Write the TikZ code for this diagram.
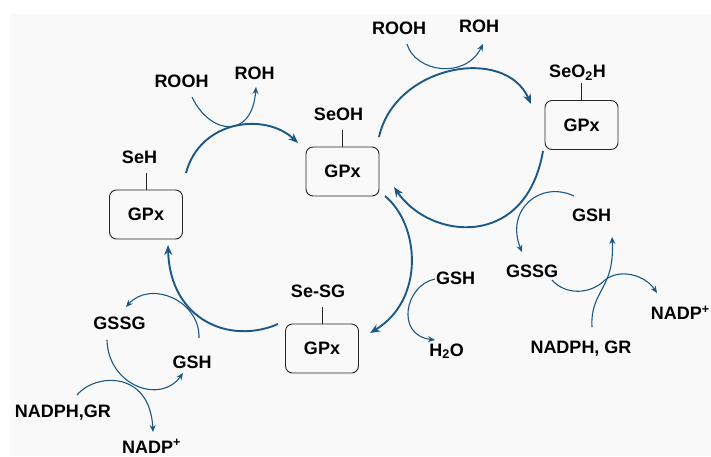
\documentclass[tikz,border=0pt]{standalone}
\usepackage{fontspec}
\setmainfont{Liberation Sans}
\usetikzlibrary{arrows.meta}
\definecolor{cycblue}{RGB}{28,88,134}
\definecolor{panel}{RGB}{249,249,249}

\begin{document}
\begin{tikzpicture}[x=1pt, y=-1pt,
	gpx/.style={draw=black!85, line width=0.9pt, rounded corners=7pt, minimum width=73pt, minimum height=49pt, inner sep=0pt, font=\bfseries\fontsize{18}{20}\selectfont},
	lbl/.style={inner sep=0pt, text height=13pt, text depth=0pt, font=\bfseries\fontsize{18}{20}\selectfont},
	stem/.style={line width=0.9pt, black!85},
	cyc/.style={draw=cycblue, line width=1.9pt, -{Stealth[length=10pt,width=8pt]}},
	side/.style={draw=cycblue, line width=1.1pt, -{Stealth[length=7pt,width=6pt]}}]
		%%%%% START %%%%%
		
		\fill[white] (0,0) rectangle (711,456);
		\fill[panel] (10,14) rectangle (711,456);
		\useasboundingbox (0,0) rectangle (711,456);
		
		% the four enzyme states
		\node[gpx] (gpxL) at (146,214.5) {GPx};
		\node[gpx] (gpxM) at (342.5,171.5) {GPx};
		\node[gpx] (gpxR) at (581.5,125) {GPx};
		\node[gpx] (gpxB) at (322,348.5) {GPx};
		
		\draw[stem] (gpxL.north) -- ++(0,-17);
		\draw[stem] (gpxM.north) -- ++(0,-17);
		\draw[stem] (gpxR.north) -- ++(0,-17);
		\draw[stem] (gpxB.north) -- ++(0,-17);
		
		\node[lbl] (seh) at (139.5,157) {SeH};
		\node[lbl] (seoh) at (338.5,114) {SeOH};
		\node[lbl] (seotwoh) at (577.5,71) {SeO\textsubscript{2}H};
		\node[lbl] (sesg) at (318,291) {Se-SG};
		
		% substrates and products
		\node[lbl] (roohL) at (181.5,81) {ROOH};
		\node[lbl] (rohL) at (254.5,73) {ROH};
		\node[lbl] (roohT) at (399,28) {ROOH};
		\node[lbl] (rohT) at (479,26) {ROH};
		\node[lbl] (gshR) at (591.5,215) {GSH};
		\node[lbl] (gssgR) at (532,271) {GSSG};
		\node[lbl, anchor=east] (nadpR) at (710,313) {NADP\textsuperscript{+}};
		\node[lbl] (nadphR) at (581,347) {NADPH, GR};
		\node[lbl] (gshM) at (455.5,277.5) {GSH};
		\node[lbl] (water) at (446.5,349.5) {H\textsubscript{2}O};
		\node[lbl] (gssgL) at (119.5,323) {GSSG};
		\node[lbl] (gshL) at (192,361.5) {GSH};
		\node[lbl] (nadphL) at (63,410.5) {NADPH,GR};
		\node[lbl] (nadpL) at (151.5,446.5) {NADP\textsuperscript{+}};
		
		% end points of the arcs
		\coordinate (lOut) at (186,173);   \coordinate (mIn) at (298,143);
		\coordinate (mOut) at (379,137);   \coordinate (rIn) at (531,104);
		\coordinate (rOut) at (543,151);   \coordinate (mBack) at (394,187);
		\coordinate (mDown) at (385,196);  \coordinate (bIn) at (370,333);
		\coordinate (bOut) at (278,324);   \coordinate (lIn) at (168,245);
		
		\coordinate (roohLe) at (192,97);  \coordinate (rohLe) at (256,87);
		\coordinate (roohTe) at (407,44);  \coordinate (rohTe) at (483,44);
		\coordinate (gshRe) at (574,196);  \coordinate (gssgRa) at (522,252);
		\coordinate (gssgRe) at (552,280); \coordinate (nadpRe) at (657,293);
		\coordinate (nadphRe) at (592,327);\coordinate (gshRa) at (612,237);
		\coordinate (gshMe) at (435,279);  \coordinate (waterE) at (435,340);
		\coordinate (gshLe) at (199,338);  \coordinate (gssgLa) at (126,307);
		\coordinate (gssgLe) at (107,340); \coordinate (gshLa) at (183,373);
		\coordinate (nadphLe) at (77,395); \coordinate (nadpLe) at (153,432);
		
		% main cycle
		\draw[cyc] (lOut) .. controls (200,120) and (265,112) .. (mIn);
		\draw[cyc] (mOut) .. controls (395,65) and (505,45) .. (rIn);
		\draw[cyc] (rOut) .. controls (526,250) and (430,240) .. (mBack);
		\draw[cyc] (mDown) .. controls (420,225) and (425,300) .. (bIn);
		\draw[cyc] (bOut) .. controls (230,345) and (170,320) .. (lIn);
		
		% side reactions
		\draw[side] (roohLe) .. controls (210,135) and (252,140) .. (rohLe);
		\draw[side] (roohTe) .. controls (415,72) and (465,80) .. (rohTe);
		\draw[side] (gshRe) .. controls (540,180) and (505,210) .. (gssgRa);
		\draw[side] (gssgRe) .. controls (565,295) and (590,295) .. (605,280) .. controls (620,268) and (645,275) .. (nadpRe);
		\draw[side] (nadphRe) .. controls (590,290) and (615,290) .. (gshRa);
		\draw[side] (gshMe) .. controls (405,285) and (395,335) .. (waterE);
		\draw[side] (gshLe) .. controls (200,300) and (150,280) .. (gssgLa);
		\draw[side] (gssgLe) .. controls (108,385) and (160,405) .. (gshLa);
		\draw[side] (nadphLe) .. controls (95,373) and (150,370) .. (nadpLe);
		
		%%%%% END %%%%%
	\end{tikzpicture}
\end{document}
